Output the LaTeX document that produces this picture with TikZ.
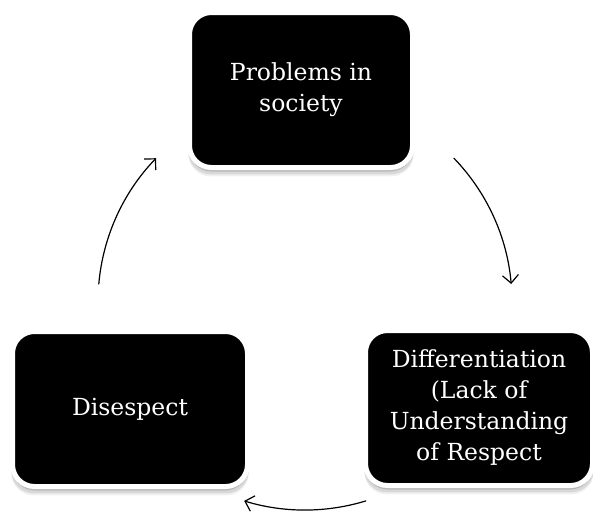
\documentclass[tikz,border=0pt]{standalone}
\usepackage{fontspec}
\setmainfont{DejaVu Serif}
\usetikzlibrary{calc,shadows,arrows.meta}
\tikzset{
	cyclebox/.style={draw=white,line width=5pt,fill=black,rounded corners=22pt,text=white,align=center,
		minimum height=155pt,inner sep=2pt,
		drop shadow={shadow xshift=0pt,shadow yshift=-8pt,shadow scale=1.01,fill=black,opacity=.06},
		drop shadow={shadow xshift=0pt,shadow yshift=-6pt,shadow scale=1.01,fill=black,opacity=.1},
		drop shadow={shadow xshift=0pt,shadow yshift=-4pt,fill=black,opacity=.15}},
	cyclearrow/.style={-{Straight Barb[length=8pt,width=16pt]},line width=1.2pt,line cap=round}
}
\begin{document}
\begin{tikzpicture}[x=1pt,y=-1pt,font=\fontsize{23.5}{31}\selectfont]
		\useasboundingbox (0,0) rectangle (593,512);
		\node[cyclebox,minimum width=223pt] (prob) at (301,90) {Problems in\\society};
		\node[cyclebox,minimum width=227pt] (diff) at (479,408) {Differentiation\\(Lack of\\Understanding\\of Respect};
		\node[cyclebox,minimum width=235pt] (dis) at (130,409) {Disespect};
		% arcs round the middle
		\coordinate (ctr) at (305,302);
		\coordinate (tr) at ([shift={(44:207pt)}]ctr);
		\coordinate (bt) at ([shift={(-73:208pt)}]ctr);
		\coordinate (lf) at ([shift={(175:207pt)}]ctr);
		\draw[cyclearrow] (tr) arc[start angle=44,end angle=5,radius=207pt];
		\draw[cyclearrow] (bt) arc[start angle=-73,end angle=-107,radius=208pt];
		\draw[cyclearrow] (lf) arc[start angle=175,end angle=136,radius=207pt];
	\end{tikzpicture}
\end{document}
